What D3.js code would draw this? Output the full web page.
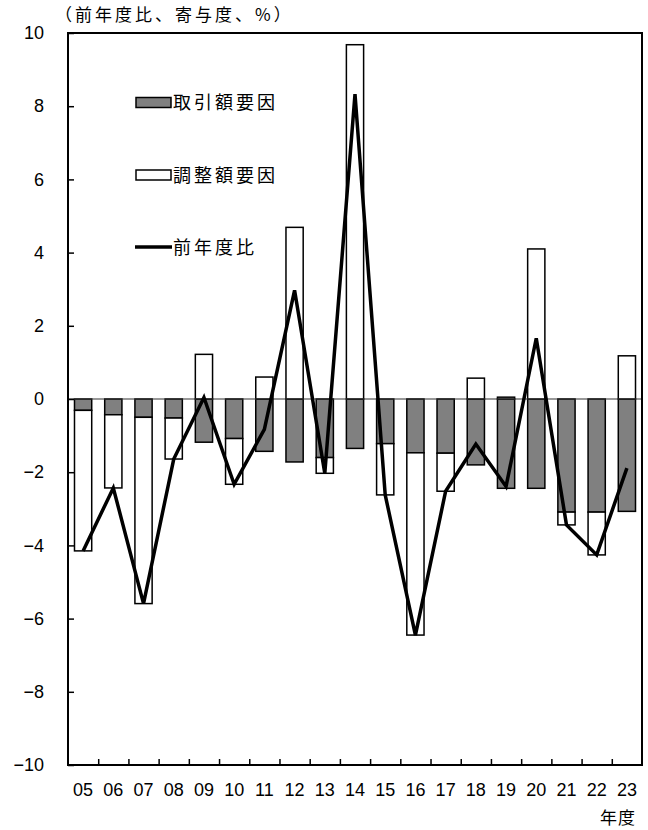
<!DOCTYPE html>
<html>
<head>
<meta charset="utf-8">
<script src="https://cdn.jsdelivr.net/npm/d3@7"></script>
<style>
  body { margin: 0; background: #fff; }
  svg { display: block; }
  .jp { font-family: "Noto Sans CJK JP", sans-serif; }
  .num { font-family: "Liberation Sans", Arial, sans-serif; }
</style>
</head>
<body>
<svg id="chart" width="648" height="830"></svg>
<script>
// fiscal years
const years = ['05', '06', '07', '08', '09', '10', '11', '12', '13', '14', '15', '16', '17', '18', '19', '20', '21', '22', '23'];
// 取引額要因 (contribution, %)
const transaction = [-0.31, -0.43, -0.50, -0.52, -1.18, -1.08, -1.43, -1.72, -1.60, -1.35, -1.22, -1.47, -1.48, -1.80, -2.44, -2.44, -3.09, -3.09, -3.07];
// 調整額要因 (contribution, %)
const adjustment = [-3.84, -2.00, -5.09, -1.12, 1.22, -1.25, 0.60, 4.69, -0.43, 9.68, -1.40, -4.98, -1.04, 0.57, 0.05, 4.10, -0.35, -1.17, 1.18];
// 前年度比 (%)
const yoy = [-4.15, -2.43, -5.59, -1.64, 0.04, -2.33, -0.83, 2.97, -2.03, 8.33, -2.62, -6.45, -2.52, -1.23, -2.39, 1.66, -3.44, -4.26, -1.89];
const yTicks = [-10, -8, -6, -4, -2, 0, 2, 4, 6, 8, 10];

const mLeft = 68, mRight = 642, mTop = 33, mBottom = 765;

const svg = d3.select('#chart');

const x = d3.scaleBand().domain(years).range([mLeft, mRight]).paddingInner(0.43).paddingOuter(0.215);
const xb = d3.scaleLinear().domain([0, years.length]).range([mLeft, mRight]); // category boundaries for ticks
const y = d3.scaleLinear().domain([-10, 10]).range([mBottom, mTop]);

// build stacked table from the two factor arrays
const rows = years.map((yr, i) => ({ year: yr, transaction: transaction[i], adjustment: adjustment[i] }));
const series = d3.stack()
  .keys(['transaction', 'adjustment'])
  .offset(d3.stackOffsetDiverging)(rows);

const fills = { transaction: '#808080', adjustment: '#ffffff' };

svg.append('g')
  .selectAll('g')
  .data(series)
  .join('g')
  .attr('fill', d => fills[d.key])
  .attr('stroke', '#000')
  .attr('stroke-width', 1.5)
  .selectAll('rect')
  .data(d => d)
  .join('rect')
  .attr('x', d => x(d.data.year))
  .attr('width', x.bandwidth())
  .attr('y', d => y(Math.max(d[0], d[1])))
  .attr('height', d => Math.abs(y(d[0]) - y(d[1])));

// zero line
svg.append('line')
  .attr('x1', mLeft).attr('x2', mRight)
  .attr('y1', y(0)).attr('y2', y(0))
  .attr('stroke', '#333').attr('stroke-width', 1.2);

// yoy line
const line = d3.line()
  .x((d, i) => x(years[i]) + x.bandwidth() / 2)
  .y(d => y(d));
svg.append('path')
  .datum(yoy)
  .attr('fill', 'none')
  .attr('stroke', '#000')
  .attr('stroke-width', 3.5)
  .attr('stroke-linejoin', 'miter')
  .attr('d', line);

// frame
svg.append('rect')
  .attr('x', mLeft).attr('y', mTop)
  .attr('width', mRight - mLeft).attr('height', mBottom - mTop)
  .attr('fill', 'none').attr('stroke', '#000').attr('stroke-width', 2);

// y axis: ticks inside
const yAxis = d3.axisLeft(y).tickValues(yTicks).tickSizeInner(-6).tickSizeOuter(0)
  .tickFormat(d => d < 0 ? '\u2212' + Math.abs(d) : d).tickPadding(24);
const gy = svg.append('g').attr('transform', `translate(${mLeft},0)`).call(yAxis);
gy.select('.domain').remove();
gy.selectAll('line').attr('stroke', '#000').attr('stroke-width', 1.5);
gy.selectAll('text').attr('class', 'num').attr('font-size', 18).attr('fill', '#000');

// x axis: ticks at category boundaries, inside
const xTickAxis = d3.axisBottom(xb).tickValues(d3.range(1, years.length)).tickSizeInner(-6).tickSizeOuter(0).tickFormat('');
const gxt = svg.append('g').attr('transform', `translate(0,${mBottom})`).call(xTickAxis);
gxt.select('.domain').remove();
gxt.selectAll('line').attr('stroke', '#000').attr('stroke-width', 1.5);

const xAxis = d3.axisBottom(x).tickSize(0).tickPadding(18);
const gx = svg.append('g').attr('transform', `translate(0,${mBottom})`).call(xAxis);
gx.select('.domain').remove();
gx.selectAll('text').attr('class', 'num').attr('font-size', 18).attr('fill', '#000');

// titles
svg.append('text').attr('class', 'jp')
  .attr('x', 55).attr('y', 21)
  .attr('font-size', 17).attr('letter-spacing', 3)
  .text('（前年度比、寄与度、%）');

svg.append('text').attr('class', 'jp')
  .attr('x', 636).attr('y', 824)
  .attr('text-anchor', 'end')
  .attr('font-size', 17).attr('letter-spacing', 1)
  .text('年度');

// legend
const legendItems = [
  { label: '取引額要因', type: 'rect', fill: '#808080', cy: 102.5 },
  { label: '調整額要因', type: 'rect', fill: '#ffffff', cy: 175 },
  { label: '前年度比', type: 'line', cy: 247 }
];
const lg = svg.append('g');
legendItems.forEach(it => {
  if (it.type === 'rect') {
    lg.append('rect')
      .attr('x', 136).attr('y', it.cy - 5).attr('width', 35).attr('height', 10)
      .attr('fill', it.fill).attr('stroke', '#000').attr('stroke-width', 1.5);
  } else {
    lg.append('line')
      .attr('x1', 135).attr('x2', 172).attr('y1', it.cy).attr('y2', it.cy)
      .attr('stroke', '#000').attr('stroke-width', 3.5);
  }
  lg.append('text').attr('class', 'jp')
    .attr('x', 173).attr('y', it.cy + 6.5)
    .attr('font-size', 18).attr('letter-spacing', 3)
    .text(it.label);
});
</script>
</body>
</html>
